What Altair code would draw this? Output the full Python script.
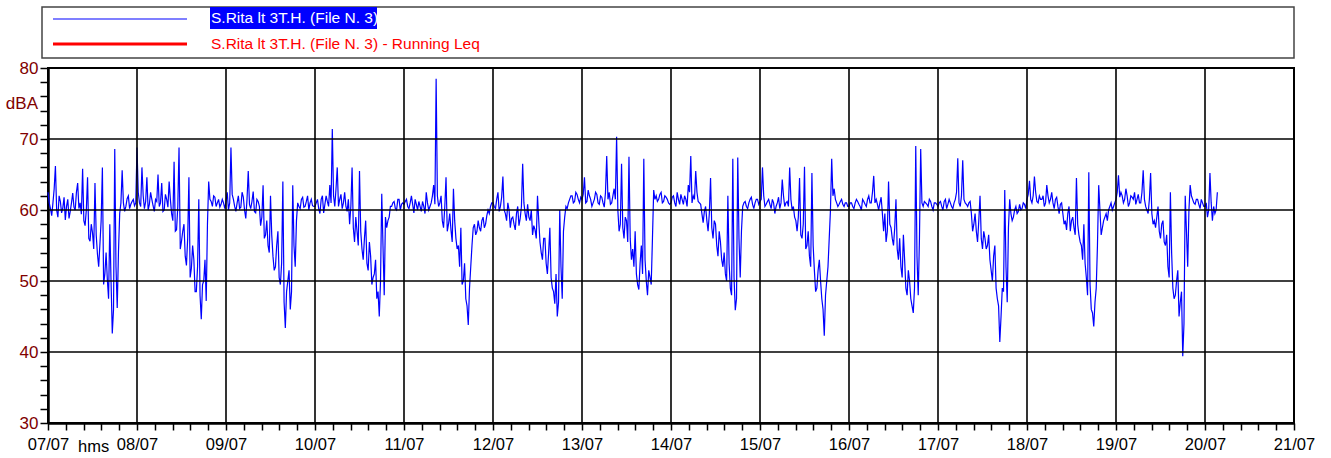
import json
import altair as alt
import pandas as pd

# ---- data: levels in dBA, read every 20 min starting 07/07 00:00
# dXX: samples on the 40-min slots; dXXb: the samples half-way between them
d07 = [62.5, 60.2, 61.0, 66.2, 59.0, 61.2, 60.3, 58.6, 61.5, 59.8, 62.4, 60.0, 63.8, 61.0, 65.8, 57.8, 64.6, 55.6,
       56.8, 63.8, 53.8, 55.2, 66.0, 51.0, 50.2, 58.0, 42.6, 68.6, 46.2, 59.5, 65.6, 59.8, 61.6, 60.2, 61.2, 60.6]
d07b = [61.0, 59.2, 63.0, 60.0, 62.0, 59.6, 61.8, 60.5, 58.8, 61.0, 60.4, 62.5, 60.2, 59.4, 58.5, 60.0, 56.0, 58.0,
        54.5, 56.5, 52.0, 58.5, 49.5, 54.0, 47.5, 50.0, 46.0, 52.0, 54.0, 61.0, 61.0, 60.5, 62.0, 60.8, 61.5, 61.0]
d08 = [68.8, 61.0, 66.0, 60.2, 64.6, 60.8, 61.5, 59.8, 61.2, 60.5, 63.8, 60.0, 61.5, 64.0, 59.5, 66.8, 57.2, 68.8,
       55.6, 58.0, 52.2, 64.6, 51.8, 53.0, 48.5, 61.5, 44.6, 50.0, 47.2, 64.0, 61.2, 62.0, 60.5, 61.5, 60.8, 61.0]
d08b = [62.5, 60.5, 62.0, 61.2, 60.0, 62.5, 60.6, 61.5, 65.0, 61.0, 59.8, 62.2, 60.4, 61.5, 58.5, 57.0, 60.5, 54.5,
        57.0, 53.5, 56.0, 50.5, 55.0, 48.5, 52.0, 48.0, 49.5, 53.0, 58.0, 61.5, 60.5, 61.8, 61.0, 60.4, 61.5, 60.2]
d09 = [61.2, 60.0, 68.8, 61.5, 59.8, 62.0, 60.4, 61.8, 58.8, 65.5, 60.2, 62.6, 59.6, 61.2, 57.8, 63.5, 56.5, 55.0,
       62.0, 53.5, 52.0, 57.0, 49.5, 64.0, 43.4, 50.0, 46.0, 63.5, 52.0, 61.0, 60.2, 61.8, 60.5, 62.0, 61.0, 60.6]
d09b = [62.5, 61.0, 62.2, 60.5, 61.0, 60.2, 62.5, 60.0, 61.5, 60.8, 61.2, 59.8, 61.5, 60.5, 59.0, 56.0, 58.5, 54.0,
        56.5, 51.5, 55.0, 50.5, 52.5, 47.0, 48.5, 51.5, 48.5, 55.0, 58.5, 60.5, 61.5, 60.4, 61.2, 60.0, 61.5, 60.5]
d10 = [60.5, 61.5, 59.5, 62.0, 60.8, 61.2, 63.5, 71.4, 60.5, 66.0, 61.5, 60.2, 62.5, 59.8, 58.0, 66.0, 55.5, 57.0,
       65.5, 54.5, 56.0, 52.5, 55.5, 49.5, 51.0, 47.5, 45.0, 62.3, 48.0, 57.5, 59.0, 60.5, 61.2, 60.0, 61.5, 60.8]
d10b = [61.0, 60.2, 61.5, 59.6, 62.0, 60.5, 61.0, 62.0, 63.0, 60.5, 62.2, 61.0, 60.5, 61.5, 60.5, 57.5, 59.0, 55.0,
        57.0, 53.0, 58.5, 51.5, 53.5, 50.5, 53.0, 48.5, 50.0, 55.0, 59.0, 58.5, 60.5, 61.0, 60.2, 61.5, 60.0, 61.0]
d11 = [60.8, 61.5, 60.2, 62.0, 59.6, 60.8, 61.2, 59.8, 60.5, 62.5, 60.0, 61.0, 63.5, 78.5, 60.5, 62.0, 57.5, 64.6,
       58.0, 57.2, 63.0, 56.0, 55.0, 57.5, 50.0, 47.5, 43.8, 52.0, 57.5, 56.5, 58.5, 57.0, 59.0, 58.0, 60.0, 60.5]
d11b = [61.2, 60.5, 61.0, 60.8, 61.5, 60.0, 60.5, 61.2, 59.5, 61.0, 60.5, 62.0, 60.8, 62.0, 61.0, 58.5, 60.5, 57.0,
        59.5, 55.5, 58.5, 54.5, 52.0, 49.5, 52.5, 46.5, 49.0, 55.0, 58.0, 57.0, 57.5, 58.5, 57.5, 59.2, 59.5, 61.0]
d12 = [61.0, 60.2, 62.5, 60.5, 64.7, 59.5, 61.0, 57.5, 59.0, 57.2, 60.5, 58.8, 66.5, 59.5, 60.8, 58.5, 56.5, 57.2,
       62.0, 55.5, 53.0, 56.0, 51.0, 57.5, 49.0, 46.8, 45.0, 60.0, 47.5, 59.0, 60.2, 61.5, 62.0, 61.2, 62.2, 61.0]
d12b = [60.5, 61.5, 59.8, 61.8, 60.0, 58.5, 60.0, 58.8, 58.0, 59.5, 57.8, 60.5, 61.0, 58.5, 59.0, 60.0, 57.8, 56.0,
        58.5, 54.0, 56.0, 52.5, 54.0, 50.5, 48.5, 51.0, 47.0, 52.0, 57.0, 60.5, 61.0, 62.0, 61.0, 62.5, 61.5, 61.8]
d13 = [61.5, 64.6, 61.2, 62.0, 60.5, 61.5, 62.2, 60.8, 61.8, 60.4, 67.6, 62.5, 61.0, 63.0, 70.3, 57.0, 66.5, 56.0,
       58.5, 67.5, 53.0, 52.0, 51.0, 48.8, 55.0, 67.2, 50.0, 51.5, 49.5, 62.8, 62.0, 61.5, 62.5, 61.2, 61.8, 61.0]
d13b = [62.2, 61.0, 62.8, 61.5, 61.0, 62.5, 61.0, 62.0, 61.0, 62.5, 61.5, 60.8, 62.0, 61.5, 60.0, 58.0, 57.5, 59.0,
        55.5, 56.0, 54.5, 57.0, 49.5, 52.5, 51.0, 53.0, 48.0, 50.5, 56.0, 61.5, 61.2, 62.2, 61.0, 62.0, 61.5, 60.8]
d14 = [61.0, 62.0, 60.5, 61.5, 62.2, 60.8, 61.5, 63.5, 67.6, 62.0, 65.5, 61.2, 60.8, 58.2, 60.5, 57.0, 64.5, 56.0,
       58.0, 53.5, 55.5, 52.0, 51.0, 62.0, 49.0, 67.2, 45.9, 67.4, 50.5, 60.5, 61.2, 60.2, 61.5, 60.8, 61.0, 61.5]
d14b = [61.8, 61.0, 62.5, 60.8, 61.5, 62.0, 60.5, 62.5, 61.0, 61.5, 62.5, 61.0, 59.5, 59.8, 58.5, 59.5, 57.5, 58.5,
        55.0, 57.0, 53.0, 54.0, 50.0, 52.5, 48.0, 50.5, 47.5, 56.0, 57.0, 61.0, 60.5, 61.0, 61.8, 60.2, 61.5, 60.8]
d15 = [61.2, 66.0, 60.5, 61.2, 60.8, 61.5, 59.5, 61.0, 60.2, 64.3, 60.5, 61.2, 66.0, 60.0, 59.0, 57.0, 64.5, 56.0,
       66.1, 55.0, 53.5, 65.2, 51.5, 49.0, 53.0, 47.5, 42.3, 50.0, 56.0, 67.2, 63.0, 61.0, 60.8, 61.5, 60.5, 61.0]
d15b = [61.5, 62.0, 60.8, 61.5, 60.2, 61.0, 60.5, 61.8, 61.0, 62.0, 61.0, 60.5, 61.5, 60.5, 58.5, 59.0, 56.5, 58.0,
        54.5, 57.0, 52.0, 55.0, 48.5, 51.5, 50.0, 46.0, 48.0, 52.0, 60.0, 62.0, 61.5, 60.5, 61.2, 60.8, 61.0, 60.5]
d16 = [60.5, 61.0, 60.2, 61.5, 60.8, 60.0, 61.2, 60.5, 62.0, 61.0, 64.8, 61.5, 60.0, 61.8, 57.0, 55.5, 64.0, 57.5,
       55.0, 61.5, 53.0, 52.0, 56.5, 49.0, 51.5, 47.5, 45.5, 69.0, 48.0, 68.6, 60.5, 61.0, 60.5, 61.2, 60.0, 61.0]
d16b = [61.0, 60.5, 61.0, 61.2, 60.5, 61.5, 60.8, 61.5, 61.0, 62.5, 61.0, 60.8, 61.0, 59.5, 59.5, 57.0, 58.0, 56.0,
        57.5, 54.5, 56.0, 50.5, 53.0, 48.0, 50.0, 46.5, 49.0, 53.5, 56.0, 61.0, 61.2, 60.8, 61.5, 60.5, 61.0, 60.8]
d17 = [60.5, 61.2, 60.0, 61.5, 60.8, 61.0, 60.2, 61.5, 67.3, 60.5, 67.0, 61.0, 60.5, 61.2, 57.0, 59.5, 55.5, 62.0,
       54.5, 56.0, 55.0, 53.0, 50.0, 55.0, 47.5, 41.4, 49.0, 62.8, 47.0, 61.5, 58.5, 60.0, 59.5, 60.8, 60.2, 60.8]
d17b = [61.0, 60.5, 61.2, 60.2, 61.5, 60.5, 61.0, 62.5, 61.0, 62.0, 61.5, 60.8, 61.0, 59.5, 58.0, 57.0, 58.5, 56.0,
        57.0, 54.5, 56.5, 51.5, 53.5, 49.0, 46.5, 45.0, 48.5, 52.0, 57.5, 59.5, 59.0, 60.5, 59.8, 60.0, 61.0, 60.2]
d18 = [61.5, 64.1, 61.0, 64.7, 61.2, 62.0, 61.5, 60.5, 63.5, 61.0, 62.5, 60.2, 61.8, 59.5, 61.0, 58.0, 57.2, 60.5,
       58.5, 57.5, 64.5, 56.5, 55.0, 58.0, 50.5, 65.3, 46.0, 43.6, 49.0, 63.5, 56.5, 58.5, 59.5, 60.0, 61.0, 60.5]
d18b = [62.2, 61.5, 62.0, 62.5, 61.0, 61.5, 62.0, 61.0, 62.0, 61.5, 61.0, 61.5, 60.5, 60.8, 59.5, 58.5, 59.5, 57.0,
        59.0, 56.5, 58.0, 55.5, 53.0, 52.5, 48.0, 49.5, 45.5, 47.0, 55.0, 60.0, 57.5, 59.0, 58.5, 60.5, 60.0, 61.0]
d19 = [61.5, 64.9, 62.5, 61.0, 63.0, 60.5, 62.0, 61.5, 60.8, 62.2, 61.0, 65.6, 60.5, 59.5, 65.2, 58.0, 57.5, 60.5,
       56.0, 58.5, 55.0, 52.0, 62.5, 49.0, 48.0, 51.5, 47.0, 39.4, 62.0, 52.0, 63.5, 61.5, 60.8, 61.5, 60.2, 61.0]
d19b = [62.5, 61.8, 62.0, 61.5, 62.0, 61.0, 61.8, 62.5, 61.5, 61.0, 62.5, 61.5, 60.0, 61.5, 59.5, 58.5, 59.0, 57.0,
        58.0, 55.5, 56.5, 50.5, 54.0, 47.5, 50.0, 45.0, 48.5, 44.0, 57.0, 60.0, 62.0, 61.0, 61.5, 60.8, 61.5, 60.5]
d20 = [60.5, 59.0, 65.2, 58.5, 59.5, 62.5]
d20b = [61.0, 60.0, 61.0, 60.5, 60.0]

days = [(d07, d07b), (d08, d08b), (d09, d09b), (d10, d10b), (d11, d11b), (d12, d12b), (d13, d13b),
        (d14, d14b), (d15, d15b), (d16, d16b), (d17, d17b), (d18, d18b), (d19, d19b), (d20, d20b)]
SLOTS_PER_DAY = 36

day_labels = ["07/07", "08/07", "09/07", "10/07", "11/07", "12/07", "13/07", "14/07",
              "15/07", "16/07", "17/07", "18/07", "19/07", "20/07", "21/07"]
grid_days = list(range(1, 14))
grid_levels = [40, 50, 60, 70]
legend_names = ["S.Rita lt 3T.H. (File N. 3)", "S.Rita lt 3T.H. (File N. 3) - Running Leq"]

rows = []
for d, (a_vals, b_vals) in enumerate(days):
    for k, v in enumerate(a_vals):
        rows.append({"t": d + k / SLOTS_PER_DAY, "level": v})
    for k, v in enumerate(b_vals):
        rows.append({"t": d + (k + 0.5) / SLOTS_PER_DAY, "level": v})
df = pd.DataFrame(rows).sort_values("t").reset_index(drop=True)

W, H = 1246, 355
FONT = "Liberation Sans"
RED = "#800000"

x_ticks = [round(i * 0.2, 1) for i in range(71)]
y_ticks = list(range(30, 81, 2))
x_label_expr = ("abs(datum.value - round(datum.value)) < 0.01 ? "
                + json.dumps(day_labels) + "[round(datum.value)] : ''")

xscale = alt.Scale(domain=[0, 14], nice=False, zero=False)
yscale = alt.Scale(domain=[30, 80], nice=False, zero=False)

x_axis = alt.Axis(
    values=x_ticks, labelExpr=x_label_expr, labelFlush=False, labelOverlap=False,
    grid=False, tickSize=7, tickWidth=1.5, tickColor="black", domainColor="black",
    domainWidth=2.5, labelFont=FONT, labelFontSize=16.5, labelColor="black",
    labelPadding=6, title=None)
y_axis = alt.Axis(
    values=y_ticks, labelExpr="datum.value % 10 == 0 ? datum.label : ''",
    labelOverlap=False, labelFlush=False, grid=False, tickSize=8, tickWidth=1.5,
    tickColor="black", domainColor="black", domainWidth=2.5, labelFont=FONT,
    labelFontSize=17, labelColor=RED, labelPadding=2, title=None)

line = alt.Chart(df).mark_line(color="#0000ff", strokeWidth=1.2).encode(
    x=alt.X("t:Q", scale=xscale, axis=x_axis),
    y=alt.Y("level:Q", scale=yscale, axis=y_axis),
)

vgrid = alt.Chart(pd.DataFrame({"t": grid_days})).mark_rule(
    color="black", strokeWidth=1.6).encode(x=alt.X("t:Q", scale=xscale, axis=x_axis))
hgrid = alt.Chart(pd.DataFrame({"level": grid_levels})).mark_rule(
    color="black", strokeWidth=1.6).encode(y=alt.Y("level:Q", scale=yscale, axis=y_axis))

one = pd.DataFrame({"a": [0]})
legend_box = alt.Chart(one).mark_rect(fill="white", stroke="#444444", strokeWidth=1.5).encode(
    x=alt.value(-6), x2=alt.value(1246), y=alt.value(-61), y2=alt.value(-10))
hl_box = alt.Chart(one).mark_rect(fill="#0000ff").encode(
    x=alt.value(162), x2=alt.value(329), y=alt.value(-61), y2=alt.value(-39))
leg_blue = alt.Chart(one).mark_rule(color="#0000ff", strokeWidth=1.2).encode(
    x=alt.value(5), x2=alt.value(139), y=alt.value(-49))
leg_red = alt.Chart(one).mark_rule(color="#ff0000", strokeWidth=3).encode(
    x=alt.value(5), x2=alt.value(139), y=alt.value(-24))
leg_t1 = alt.Chart(one).mark_text(
    text=legend_names[0], font=FONT, fontSize=15.5, color="white", align="left", baseline="middle"
).encode(x=alt.value(163), y=alt.value(-50))
leg_t2 = alt.Chart(one).mark_text(
    text=legend_names[1], font=FONT, fontSize=15.5, color="#ff0000", align="left", baseline="middle"
).encode(x=alt.value(163), y=alt.value(-24))
dba = alt.Chart(one).mark_text(
    text="dBA", font=FONT, fontSize=17, color=RED, align="right", baseline="middle"
).encode(x=alt.value(-10), y=alt.value(36))
hms = alt.Chart(one).mark_text(
    text="hms", font=FONT, fontSize=16.5, color="black", align="left", baseline="alphabetic"
).encode(x=alt.value(30), y=alt.value(384))

chart = alt.layer(
    line, vgrid, hgrid, legend_box, hl_box, leg_blue, leg_red, leg_t1, leg_t2, dba, hms
).properties(
    width=W, height=H,
    padding={"left": 48, "top": 68, "right": 37, "bottom": 35},
    autosize=alt.AutoSizeParams(type="none"),
    background="white",
).configure_view(stroke="black", strokeWidth=2)

chart.save("out.html", embed_options={"renderer": "svg", "actions": False})
